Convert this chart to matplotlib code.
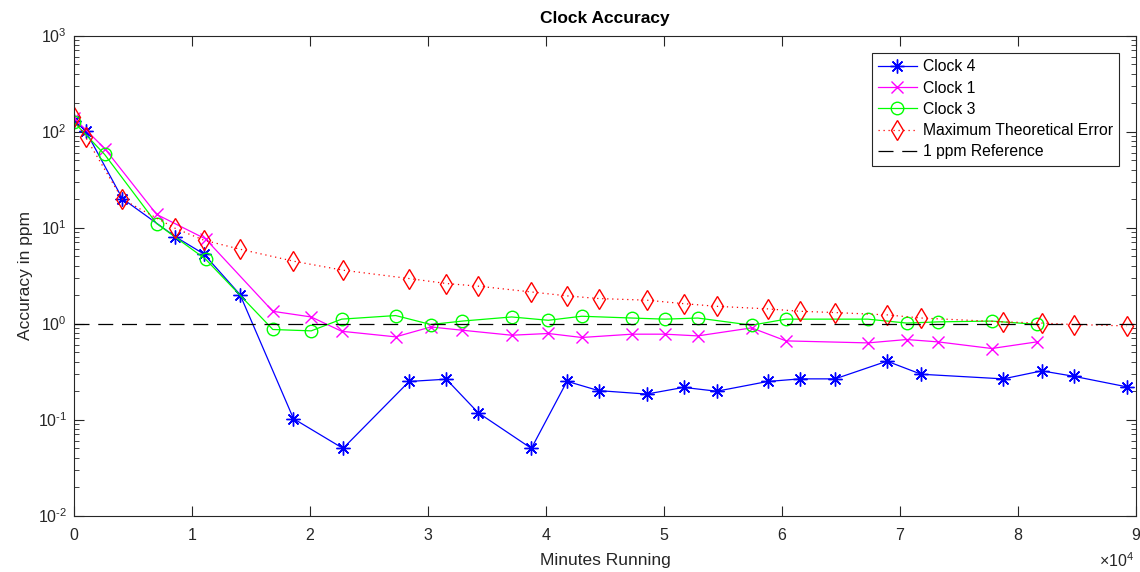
import math
import matplotlib
matplotlib.use("Agg")
import matplotlib.pyplot as plt
from matplotlib.ticker import (LogLocator, MultipleLocator, NullFormatter,
                               FuncFormatter)

plt.rcParams['font.family'] = ['Liberation Sans', 'DejaVu Sans']
plt.rcParams['mathtext.fontset'] = 'custom'
plt.rcParams['mathtext.rm'] = 'Liberation Sans'
plt.rcParams['mathtext.it'] = 'Liberation Sans'

# Sample times (minutes) for clock 4 and the theoretical bound
t_a = [0, 1000, 4100, 8600, 11000, 14070, 18600, 22800, 28400, 31550, 34240,
       38760, 41780, 44450, 48530, 51660, 54470, 58790, 61550, 64500, 68900,
       71800, 78750, 82010, 84720, 89210]
# Sample times (minutes) for clocks 1 and 3
t_b = [0, 2600, 7000, 11150, 16850, 20100, 22680, 27260, 30230, 32910, 37090,
       40200, 43020, 47280, 50080, 52860, 57430, 60340, 67280, 70570, 73250,
       77770, 81580]

clock4 = [130, 101, 20, 8.0, 5.3, 2.0, 0.102, 0.050, 0.249, 0.263, 0.118,
          0.050, 0.250, 0.200, 0.184, 0.216, 0.197, 0.249, 0.265, 0.265, 0.405,
          0.296, 0.265, 0.321, 0.282, 0.219]
clock1 = [138, 66.5, 13.7, 7.6, 1.34, 1.17, 0.83, 0.726, 0.92, 0.851, 0.755,
          0.787, 0.715, 0.774, 0.774, 0.743, 0.90, 0.659, 0.628, 0.681, 0.643,
          0.549, 0.643]
clock3 = [125, 57.6, 11.0, 4.68, 0.866, 0.838, 1.11, 1.21, 0.976, 1.06, 1.17,
          1.08, 1.19, 1.14, 1.11, 1.14, 0.96, 1.11, 1.11, 1.01, 1.04, 1.06, 0.98]
max_err = [142, 86.6, 19.7, 9.77, 7.38, 5.94, 4.46, 3.59, 2.94, 2.61, 2.45,
           2.13, 1.94, 1.82, 1.75, 1.61, 1.51, 1.42, 1.34, 1.30, 1.23, 1.14,
           1.04, 1.01, 0.976, 0.944]
ref_x = [0, 90000]
ref_y = [1, 1]
x_exponent = 4

fig = plt.figure(figsize=(11.4, 5.72), dpi=100)
ax = fig.add_axes([74 / 1140, 1 - 515.5 / 572, 1062 / 1140, 480 / 572])

asterisk = (8, 2, 0)
ax.plot(t_a, clock4, color='#0000ff', lw=0.9, marker=asterisk, ms=10, mew=1.0,
        label='Clock 4')
ax.plot(t_b, clock1, color='#ff00ff', lw=0.9, marker='x', ms=8, mew=1.0,
        label='Clock 1')
ax.plot(t_b, clock3, color='#00ff00', lw=0.9, marker='o', ms=9, mew=1.0,
        mfc='none', label='Clock 3')
ax.plot(t_a, max_err, color='#ff0000', lw=0.9, ls=(0, (1, 3)), marker='d',
        ms=10, mew=1.0, mfc='none', label='Maximum Theoretical Error')
ax.plot(ref_x, ref_y, color='black', lw=0.9, ls=(0, (12, 7)),
        label='1 ppm Reference')

ax.set_yscale('log')
ax.set_xlim(0, 90000)
ax.set_ylim(1e-2, 1e3)

scale = 10 ** x_exponent
ax.xaxis.set_major_locator(MultipleLocator(scale))
ax.xaxis.set_major_formatter(FuncFormatter(lambda v, p: f'{v / scale:g}'))


def log_label(v, p):
    e = int(round(math.log10(v)))
    sign = r'\text{-}' if e < 0 else ''
    return rf'$\mathdefault{{10^{{{sign}{abs(e)}}}}}$'


ax.yaxis.set_major_locator(LogLocator(base=10, numticks=10))
ax.yaxis.set_major_formatter(FuncFormatter(log_label))
ax.yaxis.set_minor_locator(LogLocator(base=10, subs=range(2, 10), numticks=20))
ax.yaxis.set_minor_formatter(NullFormatter())

axis_col = '#262626'
for s in ax.spines.values():
    s.set_color(axis_col)
    s.set_linewidth(0.8)
ax.tick_params(which='both', direction='in', top=True, right=True,
               colors=axis_col, labelsize=11.5)
ax.tick_params(which='major', length=7)
ax.tick_params(which='minor', length=3.5)
ax.tick_params(axis='x', pad=9)
ax.tick_params(axis='y', pad=5)

# Exponent label for the x axis, below its right end
fig.text(1134 / 1140, 1 - 561 / 572, rf'$\times\mathdefault{{10^{{{x_exponent}}}}}$',
         ha='right', va='center', fontsize=11.5, color=axis_col)

ax.set_xlabel('Minutes Running', fontsize=12.5, color=axis_col, labelpad=7)
ax.set_ylabel('Accuracy in ppm', fontsize=12.5, color=axis_col, labelpad=3)
ax.set_title('Clock Accuracy', fontsize=12.5, fontweight='bold', pad=9)

leg = ax.legend(loc='upper right', bbox_to_anchor=(0.984, 0.9635),
                borderaxespad=0, fontsize=11.3, fancybox=False,
                edgecolor=axis_col, framealpha=1, handlelength=2.5,
                labelspacing=0.4, borderpad=0.4, handletextpad=0.35)
leg.get_frame().set_linewidth(0.8)

fig.savefig('out.png', dpi=100)
